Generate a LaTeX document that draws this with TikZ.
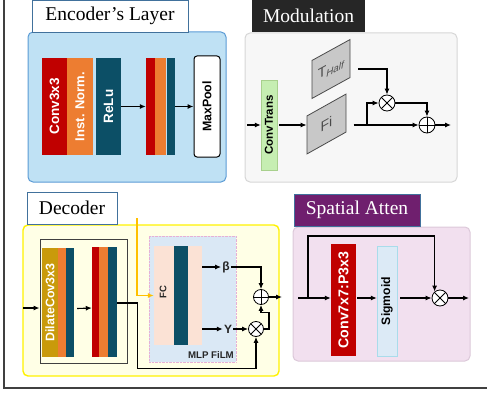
\documentclass[tikz,border=0pt]{standalone}
\usepackage{fontspec}
\setmainfont{Liberation Serif}
\setsansfont{Liberation Sans}
\usepackage{graphicx}
\usetikzlibrary{arrows.meta}

\definecolor{cred}{HTML}{C00000}
\definecolor{corange}{HTML}{ED7D31}
\definecolor{cteal}{HTML}{0C4F66}
\definecolor{cgold}{HTML}{C99A0B}
\definecolor{cyell}{HTML}{FFC000}
\definecolor{cpurple}{HTML}{6F1F6E}
\definecolor{hdrdark}{HTML}{262626}
\definecolor{hdrline}{HTML}{41719C}
\definecolor{encfill}{HTML}{BFE1F4}
\definecolor{encline}{HTML}{5B9BD5}
\definecolor{modfill}{HTML}{F7F7F7}
\definecolor{modline}{HTML}{D6D6D6}
\definecolor{decfill}{HTML}{FFFFE6}
\definecolor{decline}{HTML}{FFF200}
\definecolor{safill}{HTML}{F2E0EF}
\definecolor{saline}{HTML}{DCC8D9}
\definecolor{filmfill}{HTML}{DAE8F5}
\definecolor{filmline}{HTML}{E6B0D6}
\definecolor{fcfill}{HTML}{FBE2D5}
\definecolor{sigfill}{HTML}{DCEAF6}
\definecolor{sigline}{HTML}{A9DCEB}
\definecolor{ctfill}{HTML}{C6EEB2}
\definecolor{ctline}{HTML}{A8D08D}
\definecolor{parafill}{HTML}{C8C8C8}
\definecolor{paraline}{HTML}{4A4A4A}
\definecolor{boxline}{HTML}{404040}

\begin{document}
\begin{tikzpicture}[x=1pt,y=-1pt,
  blk/.style={rectangle, inner sep=0pt, font=\sffamily\bfseries\fontsize{#1}{#1}\selectfont},
  blk/.default=10,
  hdr/.style={rectangle, inner sep=0pt, minimum height=32pt, line width=0.8pt,
    font=\fontsize{19.5}{22}\selectfont},
  panel/.style={rectangle, rounded corners=5pt, line width=1pt, inner sep=0pt},
  para/.style={rectangle, draw=paraline, fill=parafill, inner sep=0pt, line width=0.8pt,
    text=paraline, font=\sffamily\fontsize{14}{14}\selectfont},
  arr/.style={-{Latex[length=6pt,width=5pt]}, line width=1.1pt},
  wire/.style={line width=1.1pt},
  opx/.style={circle, draw, fill=white, inner sep=0pt, minimum size=#1, line width=0.8pt},
  otimes/.style={path picture={\draw[line width=0.8pt]
    (path picture bounding box.north west) -- (path picture bounding box.south east)
    (path picture bounding box.north east) -- (path picture bounding box.south west);}},
  oplus/.style={path picture={\draw[line width=0.8pt]
    (path picture bounding box.north) -- (path picture bounding box.south)
    (path picture bounding box.west) -- (path picture bounding box.east);}}]
\useasboundingbox (0,0) rectangle (487,396);

% encoder
\node[panel, draw=encline, fill=encfill, minimum width=198pt, minimum height=150pt] (encpanel) at (127,107) {};
\node[hdr, draw=hdrline, fill=white, minimum width=156pt] (enchdr) at (110,16) {Encoder’s Layer};
\node[blk=13.5, fill=cred, text=white, minimum width=25pt, minimum height=97pt] (conv) at (54.5,106.5) {\rotatebox{90}{Conv3x3}};
\node[blk=13, fill=corange, text=white, minimum width=26pt, minimum height=97pt] (norm) at (80,106.5) {\rotatebox{90}{Inst. Norm.}};
\node[blk=13.5, fill=cteal, text=white, minimum width=25pt, minimum height=97pt] (relu) at (108.5,106.5) {\rotatebox{90}{ReLu}};
\node[blk, fill=cred, minimum width=9pt, minimum height=97pt] (er2) at (150.5,106.5) {};
\node[blk, fill=corange, minimum width=11pt, minimum height=97pt] (eo2) at (160.5,106.5) {};
\node[blk, fill=cteal, minimum width=8pt, minimum height=97pt] (et2) at (171,106.5) {};
\node[blk=12.4, draw, fill=white, rounded corners=3pt, line width=1pt, minimum width=26pt, minimum height=101pt] (pool) at (207,106.5) {\rotatebox{90}{MaxPool}};
\draw[arr] (relu) -- (er2);
\draw[arr] (et2) -- (pool);

% modulation
\node[panel, draw=modline, fill=modfill, minimum width=212pt, minimum height=149pt] (modpanel) at (351,107.5) {};
\node[hdr, fill=hdrdark, text=white, minimum width=113pt] (modhdr) at (308.5,16) {Modulation};
\node[blk=11.5, draw=ctline, fill=ctfill, minimum width=16pt, minimum height=90pt] (ctrans) at (269,125) {\rotatebox{90}{ConvTrans}};
\node[para, yslant=0.56, minimum width=39pt, minimum height=38pt] (fi) at (326.5,124) {Fi};
\node[para, yslant=0.55, minimum width=38pt, minimum height=38pt] (thalf) at (331,69) {T\textsubscript{\itshape Half}};
\node[opx=16pt, otimes] (mul1) at (387,103) {};
\node[opx=16pt, oplus] (add1) at (427,125) {};
\coordinate (modin) at (247,125);
\coordinate (modbr) at (367,125);
\coordinate (modout) at (451,125);
\draw[arr] (modin) -- (ctrans);
\draw[arr, shorten <=2pt] (ctrans) -- (fi.west |- ctrans);
\draw[wire] ([xshift=27pt]fi.center |- modbr) -- (modbr);
\draw[arr] (modbr) -- (add1);
\draw[arr] (modbr) |- (mul1);
\draw[arr] ([xshift=27pt]thalf.center) -| (mul1);
\draw[arr] (mul1) -| (add1);
\draw[arr] (add1) -- (modout);

% decoder
\node[panel, draw=decline, fill=decfill, line width=1.4pt, minimum width=256pt, minimum height=151pt] (decpanel) at (151,300.5) {};
\node[hdr, draw=hdrline, fill=white, minimum width=90pt] (dechdr) at (72,208) {Decoder};
\node[rectangle, draw=boxline, line width=1pt, minimum width=87pt, minimum height=124pt] (dbox) at (83.5,301) {};
\node[blk=12.4, fill=cgold, text=white, minimum width=16pt, minimum height=109pt] (dil) at (50,302.5) {\rotatebox{90}{DilateCov3x3}};
\node[blk, fill=corange, minimum width=8pt, minimum height=109pt] (do1) at (62,302.5) {};
\node[blk, fill=cteal, minimum width=8pt, minimum height=109pt] (dt1) at (70,302.5) {};
\node[blk, fill=cred, minimum width=7pt, minimum height=110pt] (dr2) at (95.5,302) {};
\node[blk, fill=corange, minimum width=9pt, minimum height=110pt] (do2) at (103.5,302) {};
\node[blk, fill=cteal, minimum width=9pt, minimum height=110pt] (dt2) at (112.5,302) {};
\node[rectangle, draw=filmline, densely dotted, fill=filmfill, minimum width=87pt, minimum height=126pt] (film) at (192.5,299) {};
\node[blk, fill=fcfill, minimum width=48pt, minimum height=99pt] (fc) at (178,295.5) {};
\node[blk, fill=cteal, minimum width=14pt, minimum height=99pt] (fcbar) at (181,295.5) {};
\node[blk=9.5, text=hdrdark] (fctxt) at (163,292) {\rotatebox{90}{FC}};
\node[blk=9.7, anchor=east, text=hdrdark] (filmtxt) at (234,355) {MLP FiLM};
\node[blk=12, inner sep=1pt, text=hdrdark] (beta) at (226,267) {β};
\node[blk=12, inner sep=1pt, text=hdrdark] (gam) at (228,329) {Y};
\node[opx=15pt, oplus] (add2) at (261,297) {};
\node[opx=15pt, otimes] (mul2) at (256,329) {};
\coordinate (decin) at (23,308);
\coordinate (filmin) at (137,218);
\coordinate (decout) at (282,297);
\draw[arr] (decin) -- (decin -| dbox.west);
\draw[arr] ([xshift=3pt,yshift=-6pt]dt1.east) -- ([yshift=-6pt]dr2.west);
\draw[arr, draw=cyell, line width=1.4pt] (filmin) |- (fc.west);
\draw[arr] ([yshift=-1pt]dt2.east) -- ++(20,0) |- ([yshift=-32pt]mul2.south) -- (mul2.south);
\draw[arr] (fc.east |- beta) -- (beta);
\draw[arr] (beta) -| (add2);
\draw[arr] (fc.east |- gam) -- (gam);
\draw[arr] (gam) -- (mul2);
\draw[arr] (mul2) -- ++(13,0) |- ([yshift=-8pt]add2.south) -- (add2.south);
\draw[arr] (add2) -- (decout);

% spatial attention
\node[panel, draw=saline, fill=safill, minimum width=177pt, minimum height=134pt] (sapanel) at (381.5,294) {};
\node[hdr, draw=hdrline, fill=cpurple, text=white, minimum width=126pt] (sahdr) at (357,210) {Spatial Atten};
\node[blk=14.2, fill=cred, text=white, minimum width=25pt, minimum height=112pt] (c7) at (343.5,300) {\rotatebox{90}{Conv7x7:P3x3}};
\node[blk=12.2, draw=sigline, fill=sigfill, minimum width=20pt, minimum height=110pt] (sig) at (387,301) {\rotatebox{90}{Sigmoid}};
\node[opx=16pt, otimes] (mul3) at (440,298) {};
\coordinate (sain) at (298,298);
\coordinate (sabr) at (308,298);
\coordinate (saout) at (469,298);
\draw[arr] (sain) -- (sain -| c7.west);
\draw[arr] ([xshift=1pt]c7.east |- sain) -- (sig.west |- sain);
\draw[arr] ([xshift=3pt]sig.east |- sain) -- (mul3);
\draw[arr] (sabr) -- ++(0,-62) -| (mul3.130);
\draw[arr] (mul3) -- (saout);

% frame
\draw[boxline, line width=1.2pt] (4,0) -- (4,388) -- (487,388);
\end{tikzpicture}
\end{document}
